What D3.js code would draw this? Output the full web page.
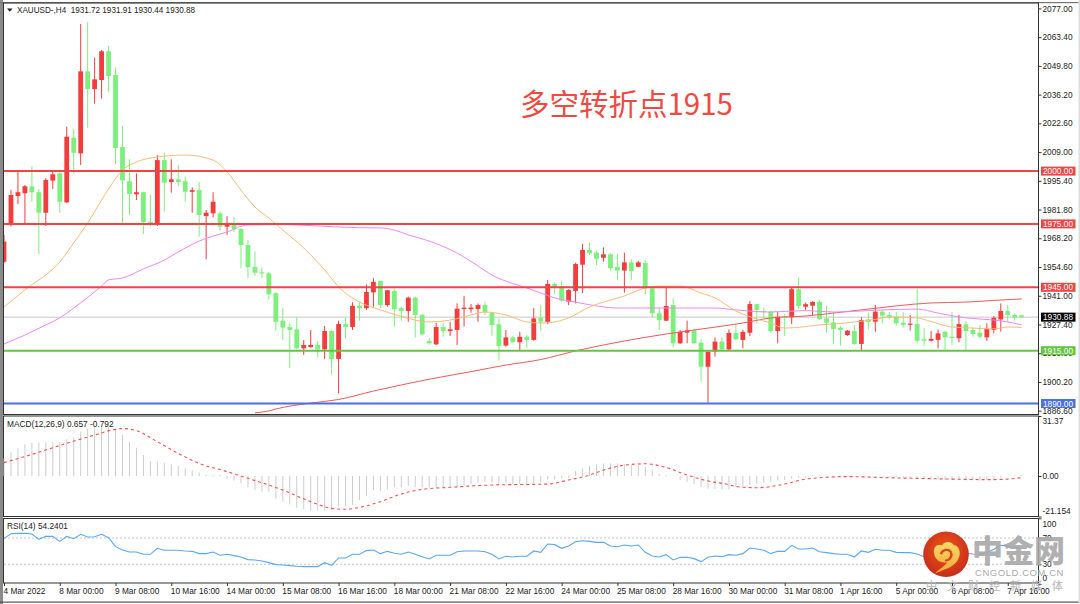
<!DOCTYPE html>
<html><head><meta charset="utf-8">
<script src="https://cdn.jsdelivr.net/npm/d3@7/dist/d3.min.js"></script>
<style>html,body{margin:0;padding:0;background:#fff;overflow:hidden}svg{display:block}text{font-family:"Liberation Sans",Arial,sans-serif}</style>
</head><body><svg id="c" width="1080" height="604"></svg>
<script>
// [open, high, low, close]
const candles=[
[1957.1,1969.8,1956.5,1966.6],[1974.5,1991.1,1973.7,1988.7],[1988.2,2000.5,1984.4,1990.0],[1989.5,1993.4,1974.9,1992.8],[1992.8,2002.4,1985.5,1990.0],
[1990.0,1991.5,1960.8,1980.3],[1980.3,1996.7,1974.0,1995.8],[1995.5,1999.7,1991.5,1998.5],[1999.0,1999.6,1980.3,1985.5],[1985.2,2021.0,1984.8,2016.3],
[2015.8,2019.9,1999.0,2008.7],[2008.4,2069.6,2002.9,2047.2],[2047.2,2070.4,2020.5,2038.8],[2038.8,2053.8,2031.9,2043.4],[2043.1,2057.3,2034.3,2056.7],
[2056.7,2059.2,2037.6,2045.0],[2045.5,2049.1,2003.4,2010.9],[2011.4,2021.3,1975.4,1995.6],[1995.2,2005.6,1979.2,1989.2],[1989.0,1998.9,1986.3,1990.0],
[1990.0,1990.1,1970.2,1975.8],[1976.0,1988.7,1973.7,1974.5],[1974.5,2007.6,1974.0,2005.2],[2005.2,2008.7,1980.8,1994.5],[1994.8,2005.6,1989.8,1996.1],
[1996.1,2002.9,1992.9,1994.8],[1995.2,1997.3,1985.5,1990.2],[1990.2,1992.3,1980.3,1991.0],[1991.0,1994.7,1969.0,1979.2],[1978.7,1981.6,1958.3,1980.3],
[1980.0,1990.0,1978.1,1985.5],[1980.0,1980.8,1971.8,1973.7],[1973.7,1978.7,1969.8,1975.0],[1974.5,1978.4,1971.3,1972.5],[1972.6,1972.9,1954.0,1965.0],
[1965.0,1967.4,1949.3,1954.5],[1954.7,1961.9,1950.4,1951.9],[1952.1,1954.3,1949.5,1951.8],[1951.6,1952.2,1939.3,1941.7],[1942.2,1942.8,1924.5,1928.7],
[1929.2,1935.1,1920.1,1925.9],[1926.2,1928.2,1906.7,1924.8],[1925.1,1930.8,1915.6,1916.1],[1916.1,1920.1,1913.0,1917.7],[1916.7,1924.8,1916.4,1917.7],
[1917.7,1919.6,1911.9,1915.6],[1915.6,1926.7,1911.1,1924.3],[1924.3,1924.8,1903.8,1911.1],[1911.1,1929.2,1894.8,1927.6],[1927.6,1930.8,1920.6,1926.2],
[1926.2,1937.9,1924.8,1936.2],[1936.3,1938.2,1929.2,1935.1],[1935.1,1946.4,1934.3,1942.8],[1942.6,1949.3,1935.8,1947.6],[1948.0,1948.1,1935.1,1936.6],
[1936.6,1943.7,1935.8,1943.6],[1943.3,1944.5,1926.4,1934.7],[1935.1,1935.8,1929.2,1933.8],[1933.8,1940.6,1928.7,1940.1],[1940.1,1940.6,1921.2,1931.9],
[1932.0,1932.4,1922.4,1922.8],[1919.6,1920.9,1917.7,1918.5],[1918.0,1928.2,1917.7,1926.2],[1926.2,1928.2,1921.6,1924.3],[1924.3,1928.7,1921.9,1925.1],
[1924.8,1937.4,1917.7,1934.9],[1934.7,1941.0,1926.4,1935.4],[1934.6,1937.1,1933.0,1935.4],[1934.7,1937.4,1928.7,1936.6],[1936.6,1938.2,1931.9,1933.2],
[1932.8,1933.5,1922.1,1927.2],[1927.5,1930.3,1910.3,1917.2],[1917.4,1924.8,1916.9,1921.3],[1921.3,1922.1,1918.8,1919.0],[1919.0,1924.0,1915.0,1921.6],
[1921.6,1922.4,1916.4,1920.1],[1920.1,1935.1,1919.7,1930.3],[1930.6,1936.6,1924.5,1928.7],[1928.7,1948.5,1927.6,1946.6],[1946.6,1947.2,1941.8,1945.0],
[1945.6,1948.1,1938.2,1938.7],[1938.2,1944.1,1936.6,1943.7],[1943.3,1956.6,1937.4,1956.0],[1955.7,1965.5,1942.2,1962.7],[1962.7,1966.1,1960.3,1961.1],
[1961.4,1962.3,1955.6,1958.5],[1959.0,1963.9,1957.1,1960.6],[1960.6,1961.1,1952.9,1954.0],[1954.7,1960.8,1948.5,1952.9],[1952.9,1961.4,1942.5,1956.8],
[1956.8,1958.3,1948.5,1952.7],[1954.7,1957.5,1954.5,1956.8],[1956.5,1957.9,1941.7,1944.5],[1944.5,1945.0,1930.8,1932.7],[1932.7,1935.5,1924.8,1929.5],
[1929.2,1945.0,1929.0,1936.2],[1936.6,1939.8,1916.6,1918.5],[1918.5,1924.8,1918.2,1923.9],[1923.5,1929.2,1918.5,1924.6],[1924.6,1925.6,1918.2,1918.5],
[1918.8,1920.4,1900.3,1907.4],[1907.4,1914.6,1890.4,1914.5],[1914.5,1921.3,1912.2,1919.3],[1919.3,1921.3,1915.0,1915.6],[1915.6,1925.1,1915.0,1923.4],
[1923.4,1927.6,1920.1,1920.4],[1920.1,1924.8,1916.1,1923.9],[1923.5,1938.5,1921.9,1937.1],[1937.0,1937.1,1928.0,1934.3],[1933.8,1935.5,1930.3,1933.2],
[1933.5,1933.8,1923.5,1924.3],[1924.3,1933.5,1918.5,1931.1],[1931.4,1932.4,1921.9,1930.8],[1930.8,1945.0,1927.6,1944.1],[1944.1,1949.7,1934.6,1936.2],
[1935.8,1937.7,1934.3,1937.0],[1936.3,1938.4,1931.9,1938.1],[1938.2,1939.0,1929.5,1930.0],[1930.3,1936.2,1923.5,1928.2],[1928.4,1933.5,1918.2,1925.3],
[1925.9,1926.7,1917.4,1924.8],[1922.4,1924.8,1922.0,1924.5],[1924.3,1927.2,1917.7,1918.2],[1918.2,1930.8,1915.3,1929.5],[1929.8,1933.0,1925.1,1928.6],
[1928.7,1936.6,1924.0,1933.5],[1933.5,1934.3,1928.0,1931.6],[1931.9,1933.2,1929.8,1930.6],[1931.1,1933.5,1926.9,1928.0],[1928.2,1933.2,1925.9,1927.2],
[1927.5,1931.9,1924.5,1927.8],[1927.6,1944.5,1918.5,1919.7],[1920.4,1925.6,1917.4,1919.7],[1919.7,1924.3,1919.3,1920.6],[1920.1,1925.1,1916.1,1923.2],
[1923.9,1924.5,1915.0,1921.3],[1921.6,1933.2,1917.7,1921.0],[1920.9,1931.9,1919.0,1927.6],[1927.5,1929.1,1915.0,1924.3],[1924.8,1925.9,1921.6,1922.9],
[1923.5,1927.2,1920.9,1921.6],[1921.3,1928.0,1919.6,1925.3],[1924.8,1931.4,1923.2,1930.6],[1929.8,1937.4,1924.0,1933.8],[1933.8,1936.6,1928.7,1931.9],
[1931.9,1932.7,1929.2,1930.6],[1931.72,1931.91,1930.44,1930.88]];

// moving averages: [bar index, price]
const maOrange=[[0,1935.7],[2,1941.1],[4,1946.3],[6,1950.8],[8,1957.0],[10,1966.0],[12,1975.4],[14,1986.3],[15,1991.5],[17,2000.5],[19,2004.3],[22,2006.7],[26,2007.6],[30,2005.2],[32,1999.6],[34,1991.0],[36,1983.0],[38,1977.8],[40,1972.1],[43,1963.6],[46,1953.2],[48,1945.2],[51,1938.0],[54,1934.3],[57,1931.2],[61,1928.6],[64,1929.5],[67,1931.9],[69,1933.3],[72,1931.9],[75,1928.6],[77,1928.1],[79,1928.6],[81,1930.5],[84,1935.7],[86,1938.0],[89,1940.9],[92,1944.7],[94,1945.6],[97,1945.6],[100,1942.3],[102,1940.0],[105,1933.8],[108,1930.0],[110,1928.1],[112,1925.7],[115,1926.4],[117,1927.2],[119,1927.6],[122,1928.6],[125,1929.8],[127,1931.0],[131,1930.5],[133,1928.8],[136,1926.2],[139,1925.7],[142,1925.3],[144,1926.2],[146,1926.0]];
const maMagenta=[[0,1918.2],[3,1922.4],[6,1927.2],[8,1930.5],[10,1935.2],[14,1945.6],[15,1948.5],[17,1949.4],[20,1953.7],[23,1957.9],[25,1961.7],[28,1966.9],[32,1971.2],[35,1974.5],[40,1974.7],[42,1974.5],[47,1973.7],[51,1973.2],[54,1973.1],[56,1972.1],[58,1969.8],[61,1966.9],[65,1961.2],[68,1955.1],[70,1950.8],[73,1946.8],[75,1944.7],[77,1942.3],[79,1940.0],[82,1938.0],[85,1936.2],[88,1935.2],[91,1935.2],[97,1935.2],[102,1935.2],[105,1934.3],[110,1933.3],[115,1934.0],[119,1933.3],[126,1934.3],[131,1934.7],[134,1932.8],[138,1930.5],[142,1929.5],[144,1928.6],[146,1927.2]];
const maRed=[[36,1885.6],[38,1886.5],[39,1887.4],[44,1890.2],[48,1891.9],[53,1895.9],[57,1898.8],[62,1902.1],[67,1905.1],[72,1908.2],[77,1910.8],[82,1914.9],[89,1919.6],[95,1922.9],[101,1925.7],[106,1928.1],[110,1930.5],[115,1931.4],[119,1932.8],[124,1934.7],[128,1936.2],[133,1937.6],[138,1938.0],[142,1938.8],[146,1939.5]];

const macdHist=[9.2,12.4,14.8,16.6,17.4,17.4,17.6,17.6,17.6,19.2,20.2,23.2,24.6,25.4,26.3,25.8,24.4,21.4,17.8,14.8,11.0,7.8,7.8,7.0,6.1,5.2,4.0,3.1,1.9,0.7,0.5,0.5,
-1.7,-2.4,-3.8,-5.9,-7.3,-8.2,-8.2,-11.7,-13.4,-14.8,-16.6,-17.4,-18.1,-18.1,-18.1,-17.9,-16.0,-15.7,-15.2,
-12.5,-10.5,-7.3,-7.8,-7.0,-5.9,-5.9,-5.2,-5.9,-5.9,-6.1,-6.1,-6.1,-5.7,-5.6,-4.7,-4.2,-3.3,-3.0,-3.5,-4.0,-3.8,-4.2,-4.2,-4.2,-3.8,-3.1,-1.7,-1.7,-1.2,-0.9,
2.6,4.0,5.2,6.1,6.6,6.6,6.6,6.1,5.7,5.4,4.9,3.1,1.0,0.5,0.2,-2.1,-3.0,-4.2,-5.6,-6.6,-6.8,
-7.0,-7.0,-5.9,-5.2,-4.7,-4.2,-3.5,-3.0,-2.4,-2.1,-1.4,-1.0,-0.7,0.5,0.3,0.1,0.1,0.1,-0.2,-0.3,-0.3,-0.3,-0.3,-0.3,-0.5,-0.7,-0.9,-1.0,-1.2,-1.4,-1.6,-1.7,-2.1,-2.1,-2.1,-2.3,-2.3,-2.3,-2.1,-1.7,-0.9,-0.2,0.3,0.657];
const macdSignal=[[0,7.0],[4,11.3],[9,17.1],[13,21.4],[16,24.4],[17,24.8],[19,23.7],[22,17.9],[25,11.8],[28,6.6],[32,2.3],[35,-1.2],[40,-7.3],[44,-13.4],[47,-16.9],[49,-17.4],[51,-16.4],[54,-13.4],[57,-9.4],[60,-7.0],[64,-5.9],[70,-4.7],[78,-4.2],[81,-2.1],[84,0.5],[86,3.1],[89,5.7],[92,6.4],[95,4.5],[98,0.5],[102,-3.3],[103,-3.8],[106,-5.9],[108,-6.1],[112,-4.2],[115,-1.6],[117,-0.9],[121,-0.3],[127,-0.9],[136,-1.6],[141,-1.9],[144,-1.6],[146,-0.792]];

const rsi=[69.5,76.6,77.1,77.1,76.1,68.0,72.5,72.5,64.9,72.5,69.0,75.6,71.5,72.0,75.6,70.5,56.8,51.8,48.7,48.7,45.2,45.2,54.3,51.3,51.3,51.3,50.3,49.7,46.2,46.2,48.7,43.7,45.2,43.2,41.1,37.1,36.6,35.1,32.5,29.5,29.0,28.0,27.0,26.5,26.5,26.5,32.5,28.5,39.6,39.6,45.2,45.2,
50.8,51.8,46.2,49.7,46.7,45.2,48.7,45.2,41.6,38.1,43.7,43.7,43.7,49.2,50.3,50.3,50.3,49.2,45.2,38.1,42.2,41.1,42.2,42.2,50.3,48.2,60.9,59.9,54.3,57.8,64.4,65.9,64.9,63.4,63.4,57.8,56.8,59.4,57.8,59.4,48.2,42.7,41.1,44.7,36.6,40.6,40.6,38.6,34.1,40.6,42.7,
41.6,44.7,43.7,46.2,54.8,53.3,51.3,46.2,49.7,49.7,58.9,53.3,53.3,54.8,49.2,47.7,46.2,45.2,45.2,41.1,50.3,48.2,52.8,51.3,51.3,48.2,47.7,47.7,45.7,41.6,41.6,43.7,44.7,45.7,46.7,46.7,45.7,45.2,47.7,52.8,58.9,57.8,55.8,54.24];

const priceTicks=[2077,2063.4,2049.8,2036.2,2022.6,2009,1995.4,1981.8,1968.2,1954.6,1941,1927.4,1913.8,1900.2,1886.6];
const macdTicks=[31.37,0,-21.154];
const macdTickLabels=["31.37","0.00","-21.154"];
const rsiTicks=[100,70,30,0];
const timeLabels=["4 Mar 2022","8 Mar 00:00","9 Mar 08:00","10 Mar 16:00","14 Mar 00:00","15 Mar 08:00","16 Mar 16:00","18 Mar 00:00","21 Mar 08:00","22 Mar 16:00","24 Mar 00:00","25 Mar 08:00","28 Mar 16:00","30 Mar 00:00","31 Mar 08:00","1 Apr 16:00","5 Apr 00:00","6 Apr 08:00","7 Apr 16:00"];
const labelEvery=8;
const levels=[2000,1975,1945,1915,1890];
const levelColors=["#f04545","#f04545","#f04545","#62c63c","#4a6fe0"];
const lastPrice=1930.88;
const titleText="XAUUSD-,H4  1931.72 1931.91 1930.44 1930.88";
const annotation="多空转折点1915";
const macdTitle="MACD(12,26,9) 0.657 -0.792";
const rsiTitle="RSI(14) 54.2401";

const UP="#f33c3c",DOWN="#7def7d",FS=8.3,FC="#222";
const L=4,R=1038.5;
const svg=d3.select("#c");
const x=d3.scaleLinear().domain([0,candles.length-1]).range([4,1021.7]);
const y=d3.scaleLinear().domain([1886.6,2077]).range([410.7,8.4]);
const ym=d3.scaleLinear().domain([-21.154,31.37]).range([516.5,416]);
const yr=d3.scaleLinear().domain([0,100]).range([584,518.3]);

// window chrome
svg.append("rect").attr("x",0).attr("y",0).attr("width",3).attr("height",604).attr("fill","#8a8a8a");
svg.append("rect").attr("x",0).attr("y",2).attr("width",1080).attr("height",1.2).attr("fill","#777");
svg.append("rect").attr("x",0).attr("y",601.5).attr("width",1080).attr("height",1.2).attr("fill","#555");
svg.append("rect").attr("x",1078.5).attr("y",0).attr("width",1.5).attr("height",604).attr("fill","#ddd");

const defs=svg.append("defs");
defs.append("clipPath").attr("id","mainClip").append("rect").attr("x",L).attr("y",3).attr("width",R-L).attr("height",411);
const main=svg.append("g").attr("clip-path","url(#mainClip)");

// last price line under candles
main.append("line").attr("x1",L).attr("x2",R).attr("y1",y(lastPrice)).attr("y2",y(lastPrice)).attr("stroke","#c8c8c8").attr("stroke-width",1);

const c=main.selectAll("g.c").data(candles).join("g").attr("class","c");
c.append("line").attr("x1",(d,i)=>x(i)).attr("x2",(d,i)=>x(i)).attr("y1",d=>y(d[1])).attr("y2",d=>y(d[2]))
 .attr("stroke",d=>d[3]>=d[0]?UP:DOWN).attr("stroke-width",1);
c.append("rect").attr("x",(d,i)=>x(i)-2.4).attr("width",4.8)
 .attr("y",d=>y(Math.max(d[0],d[3]))).attr("height",d=>Math.max(1.2,Math.abs(y(d[0])-y(d[3]))))
 .attr("fill",d=>d[3]>=d[0]?UP:DOWN);

const maLine=d3.line().x(d=>x(d[0])).y(d=>y(d[1])).curve(d3.curveMonotoneX);
main.append("path").attr("d",maLine(maRed)).attr("fill","none").attr("stroke","#f15a5a").attr("stroke-width",1);
main.append("path").attr("d",maLine(maMagenta)).attr("fill","none").attr("stroke","#ee88f2").attr("stroke-width",1);
main.append("path").attr("d",maLine(maOrange)).attr("fill","none").attr("stroke","#f9bb78").attr("stroke-width",1);

// horizontal levels
main.selectAll("line.lv").data(levels).join("line").attr("class","lv")
 .attr("x1",L).attr("x2",R).attr("y1",d=>y(d)).attr("y2",d=>y(d))
 .attr("stroke",(d,i)=>levelColors[i]).attr("stroke-width",2);

// annotation
svg.append("text").attr("x",520).attr("y",115).text(annotation)
 .attr("fill","#ee4a42").attr("font-size",29.5).style("font-family",'"Noto Sans CJK SC","Liberation Sans",sans-serif');

// pane frames
function frame(y0,y1){svg.append("rect").attr("x",L-.5).attr("y",y0).attr("width",R-L+.5).attr("height",y1-y0).attr("fill","none").attr("stroke","#333").attr("stroke-width",1);}
frame(3,414.5);frame(416,516.5);frame(518.5,583);

// axes
function styleAxis(g){g.selectAll("text").attr("font-size",FS).attr("fill",FC).style("font-family",'"Liberation Sans",Arial,sans-serif');
 g.selectAll("line").attr("stroke","#333");g.select(".domain").attr("stroke","none");}
const gp=svg.append("g").attr("transform",`translate(${R},0)`).call(d3.axisRight(y).tickValues(priceTicks).tickFormat(d3.format(".2f")).tickSize(3).tickPadding(1));styleAxis(gp);

// level boxes
const box=svg.append("g").selectAll("g").data(levels).join("g").attr("transform",d=>`translate(1041,${y(d)})`);
box.append("rect").attr("y",-4.5).attr("width",34.5).attr("height",9).attr("fill",(d,i)=>levelColors[i]);
box.append("text").attr("x",2).attr("y",3).text(d=>d.toFixed(2)).attr("font-size",FS).attr("fill","#fff");
const lb=svg.append("g").attr("transform",`translate(1041,${y(lastPrice)})`);
lb.append("rect").attr("y",-4.5).attr("width",34.5).attr("height",9).attr("fill","#000");
lb.append("text").attr("x",2).attr("y",3).text(lastPrice.toFixed(2)).attr("font-size",FS).attr("fill","#fff");

const gm=svg.append("g").attr("transform",`translate(${R},0)`).call(d3.axisRight(ym).tickValues(macdTicks).tickFormat((d,i)=>macdTickLabels[i]).tickSize(3).tickPadding(1));styleAxis(gm);
gm.selectAll("text").attr("dy",(d)=>d===31.37?"0.95em":d<0?"-0.4em":"0.32em");
const gr=svg.append("g").attr("transform",`translate(${R},0)`).call(d3.axisRight(yr).tickValues(rsiTicks).tickSize(3).tickPadding(1));styleAxis(gr);
gr.selectAll("text").attr("dy",d=>d===100?"0.95em":d===0?"-0.4em":"0.32em");

const gx=svg.append("g").attr("transform","translate(0,583)").call(d3.axisBottom(x).tickValues(timeLabels.map((d,i)=>i*labelEvery)).tickFormat((d,i)=>timeLabels[i]).tickSize(3).tickPadding(2));styleAxis(gx);
gx.selectAll("text").attr("text-anchor","start").attr("dx",-1);

// MACD
svg.append("g").selectAll("line").data(macdHist).join("line")
 .attr("x1",(d,i)=>x(i)).attr("x2",(d,i)=>x(i)).attr("y1",ym(0)).attr("y2",d=>ym(d)).attr("stroke","#cdcdcd").attr("stroke-width",1);
svg.append("path").attr("d",d3.line().x(d=>x(d[0])).y(d=>ym(d[1])).curve(d3.curveMonotoneX)(macdSignal))
 .attr("fill","none").attr("stroke","#f25050").attr("stroke-width",1.1).attr("stroke-dasharray","3,3");

// RSI
[70,30].forEach(v=>svg.append("line").attr("x1",L).attr("x2",R).attr("y1",yr(v)).attr("y2",yr(v)).attr("stroke","#c4c4c4").attr("stroke-dasharray","2,2"));
svg.append("path").attr("d",d3.line().x((d,i)=>x(i)).y(d=>yr(d))(rsi)).attr("fill","none").attr("stroke","#5aa7f5").attr("stroke-width",1.1);

// titles
svg.append("path").attr("d","M7,8.5h5.5l-2.75,3.2z").attr("fill","#222");
svg.append("text").attr("x",17).attr("y",13).text(titleText).attr("font-size",8.15).attr("fill",FC).style("white-space","pre");
svg.append("text").attr("x",7).attr("y",427).text(macdTitle).attr("font-size",FS).attr("fill",FC);
svg.append("text").attr("x",7).attr("y",529).text(rsiTitle).attr("font-size",FS).attr("fill",FC);

// watermark
const grad=defs.append("radialGradient").attr("id","logoG").attr("cx","50%").attr("cy","40%").attr("r","65%");
grad.append("stop").attr("offset","0%").attr("stop-color","#ee5a18");
grad.append("stop").attr("offset","100%").attr("stop-color","#c4261a");
const yg=defs.append("linearGradient").attr("id","logoY").attr("x1",0).attr("y1",0).attr("x2",0).attr("y2",1);
yg.append("stop").attr("offset","0%").attr("stop-color","#fbd968");
yg.append("stop").attr("offset","100%").attr("stop-color","#f5a83a");
const logo=svg.append("g").attr("transform","translate(946,554.3)");
logo.append("circle").attr("r",22.8).attr("fill","url(#logoG)");
logo.append("path").attr("d","M-12,-1C-13,-8,-8,-11,-4,-9C-1,-14,6,-13,8,-9C13,-9,15,-2,13,3C11,9,5,13,-1,15C-5,17,-8,18,-11,19C-6,14,-1,12,1,8C-5,9,-11,6,-12,-1Z").attr("fill","url(#logoY)");
logo.append("path").attr("d","M-5,0C-4,-5,3,-6,5,-2C7,3,2,7,-1,6").attr("fill","none").attr("stroke","#d9451c").attr("stroke-width",2.2);
svg.append("text").attr("x",972).attr("y",562).text("中金网").attr("font-size",31).attr("font-weight",900).attr("fill","#a8a8a8").attr("opacity",.9).style("font-family",'"Noto Sans CJK SC",sans-serif');
svg.append("text").attr("x",975).attr("y",576).text("CNGOLD.COM.CN").attr("font-size",9.5).attr("fill","#aaa").attr("letter-spacing",".55");
svg.append("text").attr("x",926).attr("y",590).text("中文财经新媒体").attr("font-size",11).attr("fill","#b4b4b4").attr("letter-spacing","10").style("font-family",'"Noto Sans CJK SC",sans-serif');
</script></body></html>
